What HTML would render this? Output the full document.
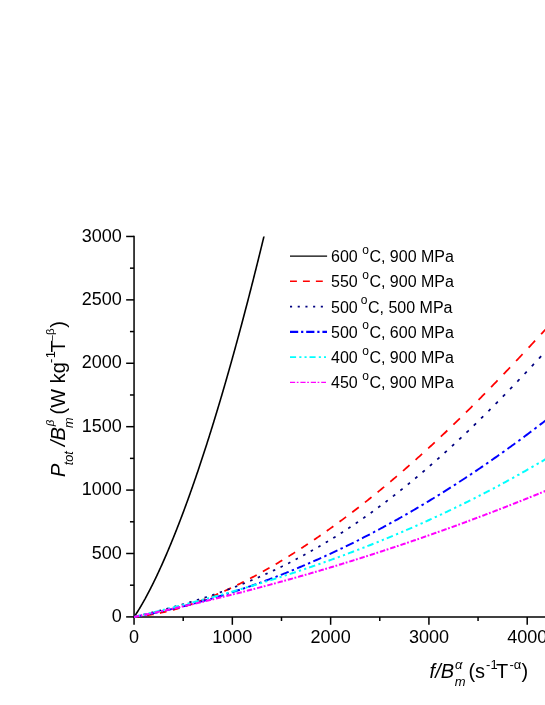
<!DOCTYPE html>
<html><head><meta charset="utf-8"><title>chart</title>
<style>
html,body{margin:0;padding:0;background:#fff;}
body{width:545px;height:705px;position:relative;overflow:hidden;font-family:"Liberation Sans",sans-serif;}
</style></head><body>
<svg width="545" height="705" viewBox="0 0 545 705" style="position:absolute;left:0;top:0;will-change:transform">
<g stroke="#000" stroke-width="1.5" fill="none">
<line x1="134.05" y1="617.65" x2="134.05" y2="235.71"/>
<line x1="133.3" y1="616.9" x2="545" y2="616.9"/>
<line x1="126.15" y1="616.90" x2="134.05" y2="616.90"/>
<line x1="129.95" y1="585.20" x2="134.05" y2="585.20"/>
<line x1="126.15" y1="553.49" x2="134.05" y2="553.49"/>
<line x1="129.95" y1="521.79" x2="134.05" y2="521.79"/>
<line x1="126.15" y1="490.09" x2="134.05" y2="490.09"/>
<line x1="129.95" y1="458.38" x2="134.05" y2="458.38"/>
<line x1="126.15" y1="426.68" x2="134.05" y2="426.68"/>
<line x1="129.95" y1="394.98" x2="134.05" y2="394.98"/>
<line x1="126.15" y1="363.27" x2="134.05" y2="363.27"/>
<line x1="129.95" y1="331.57" x2="134.05" y2="331.57"/>
<line x1="126.15" y1="299.87" x2="134.05" y2="299.87"/>
<line x1="129.95" y1="268.16" x2="134.05" y2="268.16"/>
<line x1="126.15" y1="236.46" x2="134.05" y2="236.46"/>
<line x1="134.05" y1="616.9" x2="134.05" y2="624.80"/>
<line x1="183.20" y1="616.9" x2="183.20" y2="621.00"/>
<line x1="232.34" y1="616.9" x2="232.34" y2="624.80"/>
<line x1="281.49" y1="616.9" x2="281.49" y2="621.00"/>
<line x1="330.63" y1="616.9" x2="330.63" y2="624.80"/>
<line x1="379.77" y1="616.9" x2="379.77" y2="621.00"/>
<line x1="428.92" y1="616.9" x2="428.92" y2="624.80"/>
<line x1="478.06" y1="616.9" x2="478.06" y2="621.00"/>
<line x1="527.21" y1="616.9" x2="527.21" y2="624.80"/>
</g>
<clipPath id="pc"><rect x="132.05" y="236.46" width="545" height="383.44"/></clipPath><g clip-path="url(#pc)">
<path d="M134.05,616.90 L134.38,616.44 L134.71,615.97 L135.04,615.50 L135.37,615.01 L135.70,614.52 L136.03,614.03 L136.35,613.53 L136.68,613.02 L137.01,612.51 L137.34,611.99 L137.67,611.47 L138.00,610.95 L138.33,610.42 L138.66,609.89 L138.99,609.36 L139.32,608.82 L139.65,608.27 L139.98,607.73 L140.31,607.17 L140.64,606.62 L140.96,606.06 L141.29,605.50 L141.62,604.94 L141.95,604.37 L142.28,603.80 L142.61,603.22 L142.94,602.65 L143.27,602.07 L143.60,601.48 L143.93,600.89 L144.26,600.30 L144.59,599.71 L144.92,599.11 L145.25,598.52 L145.57,597.91 L145.90,597.31 L146.23,596.70 L146.56,596.09 L146.89,595.47 L147.22,594.86 L147.55,594.24 L147.88,593.61 L148.21,592.99 L148.54,592.36 L148.87,591.73 L149.20,591.10 L149.53,590.46 L149.86,589.82 L150.18,589.18 L150.51,588.53 L150.84,587.89 L151.17,587.23 L151.50,586.58 L151.83,585.93 L152.16,585.27 L152.49,584.61 L152.82,583.94 L153.15,583.28 L153.48,582.61 L153.81,581.94 L154.14,581.26 L154.46,580.59 L154.79,579.91 L155.12,579.23 L155.45,578.54 L155.78,577.85 L156.11,577.17 L156.44,576.47 L156.77,575.78 L157.10,575.08 L157.43,574.38 L157.76,573.68 L158.09,572.98 L158.42,572.27 L158.75,571.56 L159.07,570.85 L159.40,570.13 L159.73,569.42 L160.06,568.70 L160.39,567.98 L160.72,567.25 L161.05,566.53 L161.38,565.80 L161.71,565.07 L162.04,564.33 L162.37,563.60 L162.70,562.86 L163.03,562.12 L163.36,561.37 L163.68,560.63 L164.01,559.88 L164.34,559.13 L164.67,558.38 L165.00,557.62 L165.33,556.87 L165.66,556.11 L165.99,555.34 L166.32,554.58 L166.65,553.81 L166.98,553.04 L167.31,552.27 L167.64,551.50 L167.96,550.72 L168.29,549.95 L168.62,549.16 L168.95,548.38 L169.28,547.60 L169.61,546.81 L169.94,546.02 L170.27,545.23 L170.60,544.43 L170.93,543.64 L171.26,542.84 L171.59,542.04 L171.92,541.23 L172.25,540.43 L172.57,539.62 L172.90,538.81 L173.23,538.00 L173.56,537.19 L173.89,536.37 L174.22,535.55 L174.55,534.73 L174.88,533.91 L175.21,533.08 L175.54,532.25 L175.87,531.42 L176.20,530.59 L176.53,529.76 L176.86,528.92 L177.18,528.08 L177.51,527.24 L177.84,526.40 L178.17,525.55 L178.50,524.70 L178.83,523.85 L179.16,523.00 L179.49,522.15 L179.82,521.29 L180.15,520.43 L180.48,519.57 L180.81,518.71 L181.14,517.84 L181.47,516.98 L181.79,516.11 L182.12,515.24 L182.45,514.36 L182.78,513.49 L183.11,512.61 L183.44,511.73 L183.77,510.85 L184.10,509.96 L184.43,509.08 L184.76,508.19 L185.09,507.30 L185.42,506.40 L185.75,505.51 L186.07,504.61 L186.40,503.71 L186.73,502.81 L187.06,501.91 L187.39,501.00 L187.72,500.10 L188.05,499.19 L188.38,498.27 L188.71,497.36 L189.04,496.44 L189.37,495.53 L189.70,494.61 L190.03,493.68 L190.36,492.76 L190.68,491.83 L191.01,490.90 L191.34,489.97 L191.67,489.04 L192.00,488.11 L192.33,487.17 L192.66,486.23 L192.99,485.29 L193.32,484.35 L193.65,483.40 L193.98,482.45 L194.31,481.50 L194.64,480.55 L194.97,479.60 L195.29,478.64 L195.62,477.68 L195.95,476.73 L196.28,475.76 L196.61,474.80 L196.94,473.83 L197.27,472.87 L197.60,471.90 L197.93,470.92 L198.26,469.95 L198.59,468.97 L198.92,468.00 L199.25,467.02 L199.58,466.03 L199.90,465.05 L200.23,464.06 L200.56,463.07 L200.89,462.08 L201.22,461.09 L201.55,460.10 L201.88,459.10 L202.21,458.10 L202.54,457.10 L202.87,456.10 L203.20,455.09 L203.53,454.09 L203.86,453.08 L204.18,452.07 L204.51,451.06 L204.84,450.04 L205.17,449.02 L205.50,448.01 L205.83,446.99 L206.16,445.96 L206.49,444.94 L206.82,443.91 L207.15,442.88 L207.48,441.85 L207.81,440.82 L208.14,439.78 L208.47,438.75 L208.79,437.71 L209.12,436.67 L209.45,435.63 L209.78,434.58 L210.11,433.53 L210.44,432.49 L210.77,431.43 L211.10,430.38 L211.43,429.33 L211.76,428.27 L212.09,427.21 L212.42,426.15 L212.75,425.09 L213.08,424.02 L213.40,422.96 L213.73,421.89 L214.06,420.82 L214.39,419.75 L214.72,418.67 L215.05,417.60 L215.38,416.52 L215.71,415.44 L216.04,414.35 L216.37,413.27 L216.70,412.18 L217.03,411.10 L217.36,410.01 L217.68,408.91 L218.01,407.82 L218.34,406.72 L218.67,405.63 L219.00,404.53 L219.33,403.42 L219.66,402.32 L219.99,401.21 L220.32,400.11 L220.65,399.00 L220.98,397.88 L221.31,396.77 L221.64,395.66 L221.97,394.54 L222.29,393.42 L222.62,392.30 L222.95,391.17 L223.28,390.05 L223.61,388.92 L223.94,387.79 L224.27,386.66 L224.60,385.53 L224.93,384.39 L225.26,383.26 L225.59,382.12 L225.92,380.98 L226.25,379.83 L226.58,378.69 L226.90,377.54 L227.23,376.39 L227.56,375.24 L227.89,374.09 L228.22,372.94 L228.55,371.78 L228.88,370.62 L229.21,369.46 L229.54,368.30 L229.87,367.14 L230.20,365.97 L230.53,364.80 L230.86,363.63 L231.19,362.46 L231.51,361.29 L231.84,360.11 L232.17,358.93 L232.50,357.75 L232.83,356.57 L233.16,355.39 L233.49,354.20 L233.82,353.02 L234.15,351.83 L234.48,350.64 L234.81,349.45 L235.14,348.25 L235.47,347.05 L235.79,345.86 L236.12,344.66 L236.45,343.45 L236.78,342.25 L237.11,341.04 L237.44,339.84 L237.77,338.63 L238.10,337.41 L238.43,336.20 L238.76,334.98 L239.09,333.77 L239.42,332.55 L239.75,331.33 L240.08,330.10 L240.40,328.88 L240.73,327.65 L241.06,326.42 L241.39,325.19 L241.72,323.96 L242.05,322.73 L242.38,321.49 L242.71,320.25 L243.04,319.01 L243.37,317.77 L243.70,316.52 L244.03,315.28 L244.36,314.03 L244.69,312.78 L245.01,311.53 L245.34,310.28 L245.67,309.02 L246.00,307.76 L246.33,306.51 L246.66,305.24 L246.99,303.98 L247.32,302.72 L247.65,301.45 L247.98,300.18 L248.31,298.91 L248.64,297.64 L248.97,296.37 L249.30,295.09 L249.62,293.81 L249.95,292.53 L250.28,291.25 L250.61,289.97 L250.94,288.68 L251.27,287.40 L251.60,286.11 L251.93,284.82 L252.26,283.52 L252.59,282.23 L252.92,280.93 L253.25,279.63 L253.58,278.33 L253.90,277.03 L254.23,275.73 L254.56,274.42 L254.89,273.11 L255.22,271.80 L255.55,270.49 L255.88,269.18 L256.21,267.87 L256.54,266.55 L256.87,265.23 L257.20,263.91 L257.53,262.59 L257.86,261.26 L258.19,259.94 L258.51,258.61 L258.84,257.28 L259.17,255.95 L259.50,254.61 L259.83,253.28 L260.16,251.94 L260.49,250.60 L260.82,249.26 L261.15,247.92 L261.48,246.57 L261.81,245.23 L262.14,243.88 L262.47,242.53 L262.80,241.18 L263.12,239.82 L263.45,238.47 L263.78,237.11 L264.11,235.75 L264.44,234.39 L264.77,233.02 L265.10,231.66 L265.43,230.29 L265.76,228.92" fill="none" stroke="#000" stroke-width="1.6"/>
<path d="M134.05,616.90 L135.39,616.78 L136.73,616.66 L138.07,616.52 L139.41,616.38 L140.75,616.22 M146.98,615.39 L148.32,615.18 L149.66,614.96 L151.00,614.74 L152.34,614.51 L153.68,614.27 M159.91,613.03 L161.25,612.75 L162.59,612.45 L163.92,612.15 L165.26,611.83 L166.60,611.51 M172.83,609.92 L174.16,609.56 L175.50,609.19 L176.84,608.81 L178.17,608.43 L179.51,608.04 M185.73,606.12 L187.07,605.69 L188.40,605.25 L189.74,604.80 L191.07,604.35 L192.41,603.89 M198.62,601.68 L199.96,601.18 L201.29,600.68 L202.63,600.18 L203.96,599.67 L205.29,599.15 M211.50,596.66 L212.84,596.11 L214.17,595.55 L215.50,594.99 L216.83,594.42 L218.17,593.84 M224.37,591.10 L225.70,590.49 L227.03,589.88 L228.36,589.27 L229.69,588.65 L231.02,588.02 M237.22,585.04 L238.55,584.39 L239.88,583.73 L241.21,583.07 L242.54,582.40 L243.87,581.72 M250.06,578.52 L251.39,577.82 L252.71,577.12 L254.04,576.41 L255.37,575.70 L256.70,574.98 M262.88,571.57 L264.21,570.83 L265.53,570.08 L266.86,569.33 L268.19,568.57 L269.51,567.81 M275.69,564.21 L277.01,563.42 L278.34,562.63 L279.66,561.84 L280.99,561.04 L282.31,560.24 M288.48,556.45 L289.81,555.62 L291.13,554.80 L292.45,553.96 L293.78,553.13 L295.10,552.28 M301.26,548.32 L302.58,547.45 L303.91,546.59 L305.23,545.72 L306.55,544.84 L307.87,543.96 M314.03,539.82 L315.35,538.92 L316.67,538.02 L317.99,537.11 L319.31,536.20 L320.63,535.29 M326.77,530.98 L328.09,530.04 L329.41,529.10 L330.73,528.16 L332.05,527.21 L333.37,526.26 M339.51,521.79 L340.83,520.82 L342.14,519.85 L343.46,518.87 L344.78,517.89 L346.10,516.90 M352.23,512.27 L353.54,511.26 L354.86,510.26 L356.18,509.24 L357.49,508.23 L358.81,507.21 M364.93,502.42 L366.25,501.38 L367.56,500.33 L368.88,499.29 L370.19,498.24 L371.50,497.19 M377.62,492.24 L378.93,491.17 L380.24,490.09 L381.56,489.01 L382.87,487.93 L384.18,486.84 M390.29,481.74 L391.60,480.64 L392.91,479.53 L394.22,478.42 L395.53,477.30 L396.84,476.18 M402.94,470.93 L404.25,469.80 L405.56,468.66 L406.87,467.51 L408.18,466.36 L409.49,465.21 M415.58,459.81 L416.89,458.65 L418.20,457.47 L419.51,456.30 L420.81,455.12 L422.12,453.94 M428.20,448.40 L429.51,447.20 L430.82,445.99 L432.12,444.79 L433.43,443.58 L434.73,442.37 M440.81,436.68 L442.11,435.46 L443.42,434.22 L444.72,432.99 L446.02,431.75 L447.33,430.51 M453.40,424.69 L454.70,423.43 L456.00,422.17 L457.30,420.91 L458.61,419.64 L459.91,418.37 M465.97,412.43 L467.27,411.14 L468.57,409.85 L469.87,408.56 L471.17,407.27 L472.47,405.97 M478.52,399.91 L479.82,398.60 L481.12,397.28 L482.42,395.97 L483.72,394.65 L485.02,393.33 M491.06,387.15 L492.36,385.81 L493.66,384.48 L494.96,383.14 L496.25,381.80 L497.55,380.46 M503.59,374.17 L504.89,372.82 L506.18,371.46 L507.48,370.10 L508.78,368.74 L510.07,367.38 M516.11,361.01 L517.40,359.63 L518.70,358.26 L519.99,356.88 L521.29,355.50 L522.58,354.12 M528.61,347.67 L529.90,346.29 L531.20,344.90 L532.49,343.50 L533.79,342.11 L535.08,340.72 M541.10,334.21 L542.40,332.81 L543.69,331.41 L544.98,330.00 L546.28,328.60 L547.57,327.20" fill="none" stroke="#ff0000" stroke-width="1.75"/>
<path d="M135.79,616.49 L136.25,616.38 L136.71,616.28 L137.17,616.17 L137.63,616.06 L138.09,615.95 M143.44,614.68 L143.90,614.57 L144.36,614.45 L144.81,614.34 L145.27,614.23 L145.73,614.12 M151.08,612.81 L151.54,612.69 L152.00,612.58 L152.46,612.46 L152.92,612.35 L153.37,612.23 M158.73,610.88 L159.18,610.76 L159.64,610.64 L160.10,610.52 L160.56,610.40 L161.02,610.29 M166.36,608.88 L166.82,608.76 L167.28,608.64 L167.74,608.51 L168.20,608.39 L168.66,608.27 M174.00,606.81 L174.46,606.68 L174.92,606.56 L175.38,606.43 L175.83,606.30 L176.29,606.17 M181.64,604.66 L182.10,604.53 L182.55,604.40 L183.01,604.26 L183.47,604.13 L183.93,604.00 M189.27,602.42 L189.73,602.29 L190.19,602.15 L190.64,602.01 L191.10,601.88 L191.56,601.74 M196.90,600.10 L197.36,599.96 L197.81,599.81 L198.27,599.67 L198.73,599.53 L199.19,599.38 M204.52,597.68 L204.98,597.53 L205.44,597.38 L205.90,597.23 L206.35,597.08 L206.81,596.93 M212.15,595.15 L212.60,595.00 L213.06,594.84 L213.52,594.69 L213.97,594.53 L214.43,594.37 M219.76,592.52 L220.22,592.36 L220.68,592.20 L221.13,592.03 L221.59,591.87 L222.05,591.71 M227.38,589.78 L227.83,589.61 L228.29,589.44 L228.75,589.27 L229.20,589.10 L229.66,588.93 M234.99,586.92 L235.44,586.75 L235.90,586.57 L236.35,586.40 L236.81,586.22 L237.27,586.04 M242.59,583.95 L243.04,583.77 L243.50,583.58 L243.96,583.40 L244.41,583.22 L244.87,583.03 M250.19,580.85 L250.64,580.66 L251.10,580.47 L251.55,580.28 L252.01,580.09 L252.46,579.90 M257.78,577.63 L258.23,577.43 L258.69,577.23 L259.14,577.04 L259.60,576.84 L260.05,576.64 M265.36,574.28 L265.82,574.07 L266.27,573.87 L266.73,573.66 L267.18,573.46 L267.64,573.25 M272.94,570.80 L273.39,570.58 L273.85,570.37 L274.30,570.16 L274.76,569.94 L275.21,569.73 M280.51,567.18 L280.97,566.96 L281.42,566.74 L281.87,566.52 L282.33,566.30 L282.78,566.07 M288.07,563.43 L288.53,563.21 L288.98,562.98 L289.43,562.75 L289.89,562.52 L290.34,562.28 M295.63,559.55 L296.08,559.31 L296.54,559.07 L296.99,558.84 L297.44,558.60 L297.89,558.36 M303.18,555.53 L303.63,555.28 L304.08,555.03 L304.53,554.79 L304.99,554.54 L305.44,554.29 M310.72,551.36 L311.17,551.11 L311.62,550.85 L312.07,550.60 L312.52,550.34 L312.97,550.09 M318.24,547.06 L318.70,546.80 L319.15,546.53 L319.60,546.27 L320.05,546.00 L320.50,545.74 M325.76,542.61 L326.21,542.34 L326.67,542.07 L327.12,541.80 L327.57,541.53 L328.02,541.25 M333.27,538.03 L333.72,537.75 L334.17,537.47 L334.62,537.19 L335.07,536.91 L335.52,536.63 M340.77,533.30 L341.22,533.01 L341.67,532.73 L342.12,532.44 L342.57,532.15 L343.02,531.86 M348.26,528.44 L348.71,528.14 L349.16,527.84 L349.61,527.54 L350.06,527.25 L350.51,526.95 M355.74,523.43 L356.19,523.12 L356.64,522.82 L357.09,522.51 L357.53,522.21 L357.98,521.90 M363.21,518.28 L363.66,517.97 L364.10,517.65 L364.55,517.34 L365.00,517.03 L365.45,516.71 M370.67,512.99 L371.11,512.67 L371.56,512.35 L372.01,512.03 L372.45,511.71 L372.90,511.38 M378.11,507.57 L378.56,507.24 L379.00,506.91 L379.45,506.58 L379.90,506.25 L380.34,505.92 M385.54,502.01 L385.99,501.68 L386.44,501.34 L386.88,501.00 L387.33,500.66 L387.77,500.32 M392.97,496.32 L393.41,495.97 L393.86,495.63 L394.30,495.28 L394.74,494.93 L395.19,494.59 M400.38,490.49 L400.82,490.14 L401.26,489.79 L401.71,489.43 L402.15,489.08 L402.60,488.72 M407.77,484.54 L408.22,484.18 L408.66,483.82 L409.10,483.45 L409.55,483.09 L409.99,482.73 M415.16,478.46 L415.60,478.09 L416.04,477.72 L416.49,477.35 L416.93,476.98 L417.37,476.61 M422.53,472.25 L422.98,471.87 L423.42,471.49 L423.86,471.12 L424.30,470.74 L424.74,470.36 M429.89,465.91 L430.34,465.53 L430.78,465.15 L431.22,464.76 L431.66,464.38 L432.10,463.99 M437.24,459.46 L437.68,459.07 L438.13,458.68 L438.57,458.29 L439.01,457.90 L439.45,457.50 M444.58,452.89 L445.02,452.50 L445.46,452.10 L445.90,451.70 L446.34,451.30 L446.78,450.90 M451.91,446.21 L452.35,445.81 L452.79,445.40 L453.22,445.00 L453.66,444.59 L454.10,444.19 M459.22,439.42 L459.66,439.01 L460.10,438.60 L460.54,438.18 L460.97,437.77 L461.41,437.36 M466.52,432.52 L466.96,432.10 L467.40,431.68 L467.84,431.27 L468.27,430.85 L468.71,430.43 M473.82,425.52 L474.25,425.09 L474.69,424.67 L475.13,424.25 L475.56,423.82 L476.00,423.40 M481.10,418.41 L481.53,417.98 L481.97,417.55 L482.40,417.13 L482.84,416.69 L483.28,416.26 M488.36,411.22 L488.80,410.78 L489.24,410.35 L489.67,409.91 L490.11,409.47 L490.54,409.04 M495.62,403.93 L496.06,403.49 L496.49,403.05 L496.93,402.60 L497.36,402.16 L497.80,401.72 M502.87,396.55 L503.31,396.10 L503.74,395.66 L504.17,395.21 L504.61,394.77 L505.04,394.32 M510.11,389.09 L510.54,388.64 L510.98,388.19 L511.41,387.74 L511.84,387.29 L512.28,386.84 M517.34,381.55 L517.77,381.09 L518.21,380.64 L518.64,380.18 L519.07,379.73 L519.50,379.27 M524.56,373.94 L524.99,373.48 L525.42,373.02 L525.86,372.56 L526.29,372.10 L526.72,371.64 M531.77,366.25 L532.20,365.79 L532.63,365.33 L533.07,364.86 L533.50,364.40 L533.93,363.94 M538.97,358.51 L539.41,358.04 L539.84,357.57 L540.27,357.11 L540.70,356.64 L541.13,356.17 M546.17,350.70 L546.60,350.23 L547.03,349.76 L547.46,349.29 L547.90,348.82 L548.33,348.35" fill="none" stroke="#000080" stroke-width="1.75"/>
<path d="M134.05,616.90 L135.63,616.61 L137.21,616.32 L138.79,616.03 L140.36,615.73 L141.94,615.43 M145.04,614.83 L145.49,614.74 L145.94,614.66 L146.39,614.57 L146.84,614.48 L147.29,614.39 M150.38,613.76 L151.96,613.44 L153.54,613.11 L155.11,612.78 L156.69,612.45 L158.27,612.11 M161.37,611.44 L161.82,611.34 L162.26,611.24 L162.71,611.14 L163.16,611.04 L163.61,610.94 M166.71,610.24 L168.28,609.88 L169.86,609.52 L171.44,609.15 L173.02,608.78 L174.59,608.41 M177.69,607.66 L178.14,607.55 L178.59,607.44 L179.04,607.33 L179.49,607.22 L179.93,607.11 M183.03,606.34 L184.61,605.94 L186.18,605.54 L187.76,605.14 L189.34,604.73 L190.91,604.32 M194.01,603.50 L194.45,603.38 L194.90,603.26 L195.35,603.14 L195.80,603.02 L196.25,602.90 M199.34,602.06 L200.92,601.62 L202.50,601.18 L204.07,600.74 L205.65,600.30 L207.22,599.85 M210.32,598.96 L210.76,598.83 L211.21,598.70 L211.66,598.56 L212.11,598.43 L212.56,598.30 M215.65,597.39 L217.23,596.92 L218.80,596.44 L220.38,595.96 L221.95,595.48 L223.53,594.99 M226.62,594.03 L227.07,593.89 L227.52,593.75 L227.97,593.61 L228.41,593.47 L228.86,593.32 M231.95,592.34 L233.53,591.83 L235.10,591.32 L236.68,590.80 L238.25,590.28 L239.83,589.76 M242.92,588.73 L243.36,588.57 L243.81,588.42 L244.26,588.27 L244.71,588.12 L245.16,587.97 M248.25,586.91 L249.82,586.36 L251.39,585.81 L252.97,585.26 L254.54,584.71 L256.12,584.15 M259.20,583.04 L259.65,582.88 L260.10,582.71 L260.55,582.55 L261.00,582.39 L261.44,582.23 M264.53,581.10 L266.10,580.51 L267.68,579.93 L269.25,579.34 L270.82,578.75 L272.40,578.15 M275.48,576.97 L275.93,576.80 L276.38,576.63 L276.83,576.45 L277.27,576.28 L277.72,576.11 M280.81,574.90 L282.38,574.29 L283.95,573.66 L285.52,573.04 L287.10,572.41 L288.67,571.78 M291.75,570.53 L292.20,570.34 L292.65,570.16 L293.10,569.98 L293.54,569.79 L293.99,569.61 M297.08,568.34 L298.65,567.68 L300.22,567.02 L301.79,566.36 L303.36,565.70 L304.93,565.03 M308.01,563.70 L308.46,563.51 L308.91,563.32 L309.36,563.12 L309.80,562.93 L310.25,562.74 M313.33,561.39 L314.90,560.70 L316.47,560.00 L318.04,559.30 L319.61,558.60 L321.18,557.90 M324.26,556.50 L324.71,556.30 L325.16,556.10 L325.61,555.89 L326.05,555.69 L326.50,555.48 M329.58,554.07 L331.15,553.34 L332.72,552.61 L334.29,551.87 L335.86,551.13 L337.43,550.39 M340.50,548.93 L340.95,548.71 L341.40,548.50 L341.84,548.28 L342.29,548.07 L342.74,547.85 M345.82,546.37 L347.38,545.60 L348.95,544.83 L350.52,544.06 L352.09,543.29 L353.66,542.51 M356.73,540.98 L357.18,540.75 L357.63,540.53 L358.07,540.30 L358.52,540.08 L358.97,539.85 M362.04,538.29 L363.61,537.49 L365.18,536.69 L366.74,535.88 L368.31,535.07 L369.88,534.26 M372.95,532.65 L373.40,532.42 L373.84,532.18 L374.29,531.95 L374.73,531.71 L375.18,531.47 M378.25,529.84 L379.82,529.01 L381.39,528.17 L382.95,527.33 L384.52,526.48 L386.08,525.63 M389.15,523.95 L389.60,523.71 L390.05,523.46 L390.49,523.22 L390.94,522.97 L391.38,522.73 M394.45,521.02 L396.02,520.15 L397.58,519.28 L399.15,518.40 L400.71,517.52 L402.28,516.63 M405.35,514.88 L405.79,514.63 L406.24,514.37 L406.68,514.12 L407.13,513.86 L407.57,513.60 M410.64,511.83 L412.21,510.92 L413.77,510.01 L415.33,509.10 L416.90,508.18 L418.46,507.26 M421.53,505.44 L421.97,505.18 L422.42,504.91 L422.86,504.64 L423.31,504.38 L423.75,504.11 M426.82,502.27 L428.38,501.33 L429.94,500.38 L431.50,499.43 L433.06,498.48 L434.63,497.52 M437.69,495.63 L438.14,495.35 L438.58,495.08 L439.02,494.80 L439.47,494.53 L439.91,494.25 M442.98,492.34 L444.54,491.36 L446.10,490.38 L447.66,489.39 L449.22,488.40 L450.78,487.41 M453.84,485.45 L454.29,485.17 L454.73,484.88 L455.17,484.59 L455.62,484.31 L456.06,484.02 M459.12,482.04 L460.68,481.03 L462.24,480.01 L463.80,478.99 L465.36,477.96 L466.92,476.93 M469.98,474.91 L470.42,474.61 L470.87,474.32 L471.31,474.02 L471.75,473.72 L472.20,473.43 M475.25,471.38 L476.81,470.33 L478.37,469.27 L479.93,468.22 L481.49,467.16 L483.04,466.09 M486.10,464.00 L486.54,463.69 L486.99,463.39 L487.43,463.08 L487.87,462.77 L488.32,462.47 M491.37,460.35 L492.93,459.26 L494.48,458.17 L496.04,457.08 L497.60,455.99 L499.15,454.89 M502.20,452.72 L502.65,452.41 L503.09,452.09 L503.53,451.77 L503.98,451.46 L504.42,451.14 M507.47,448.95 L509.02,447.83 L510.58,446.71 L512.13,445.58 L513.69,444.45 L515.24,443.32 M518.29,441.08 L518.74,440.76 L519.18,440.43 L519.62,440.11 L520.06,439.78 L520.51,439.46 M523.55,437.20 L525.11,436.04 L526.66,434.89 L528.21,433.72 L529.77,432.56 L531.32,431.39 M534.36,429.09 L534.81,428.75 L535.25,428.42 L535.69,428.08 L536.13,427.74 L536.58,427.41 M539.62,425.08 L541.17,423.89 L542.72,422.70 L544.28,421.50 L545.83,420.30 L547.38,419.10" fill="none" stroke="#0000ff" stroke-width="1.95"/>
<path d="M134.05,616.90 L135.27,616.62 L136.49,616.33 L137.70,616.05 L138.92,615.76 L140.14,615.47 M143.33,614.72 L143.75,614.62 L144.17,614.52 L144.59,614.42 L145.01,614.32 L145.43,614.22 M148.52,613.48 L148.94,613.38 L149.36,613.28 L149.78,613.18 L150.20,613.08 L150.62,612.98 M153.52,612.28 L154.73,611.98 L155.95,611.69 L157.17,611.39 L158.39,611.09 L159.60,610.80 M162.80,610.01 L163.22,609.91 L163.64,609.80 L164.06,609.70 L164.48,609.60 L164.89,609.49 M167.99,608.72 L168.41,608.62 L168.83,608.52 L169.25,608.41 L169.67,608.31 L170.08,608.20 M172.98,607.48 L174.20,607.17 L175.41,606.86 L176.63,606.55 L177.85,606.24 L179.07,605.93 M182.26,605.12 L182.68,605.01 L183.10,604.90 L183.52,604.80 L183.94,604.69 L184.36,604.58 M187.45,603.78 L187.87,603.67 L188.29,603.56 L188.71,603.45 L189.13,603.34 L189.54,603.24 M192.44,602.48 L193.66,602.16 L194.87,601.84 L196.09,601.52 L197.31,601.20 L198.53,600.87 M201.72,600.02 L202.14,599.91 L202.56,599.80 L202.98,599.69 L203.39,599.57 L203.81,599.46 M206.91,598.63 L207.33,598.51 L207.74,598.40 L208.16,598.29 L208.58,598.17 L209.00,598.06 M211.90,597.27 L213.11,596.94 L214.33,596.61 L215.55,596.27 L216.76,595.93 L217.98,595.60 M221.17,594.71 L221.59,594.59 L222.01,594.48 L222.43,594.36 L222.85,594.24 L223.27,594.12 M226.36,593.25 L226.78,593.14 L227.20,593.02 L227.62,592.90 L228.04,592.78 L228.46,592.66 M231.35,591.84 L232.56,591.49 L233.78,591.14 L235.00,590.79 L236.22,590.44 L237.43,590.09 M240.62,589.16 L241.04,589.04 L241.46,588.92 L241.88,588.80 L242.30,588.67 L242.72,588.55 M245.81,587.64 L246.23,587.52 L246.65,587.39 L247.07,587.27 L247.49,587.15 L247.90,587.02 M250.80,586.16 L252.01,585.80 L253.23,585.44 L254.45,585.07 L255.66,584.70 L256.88,584.34 M260.07,583.37 L260.49,583.24 L260.91,583.11 L261.33,582.98 L261.74,582.85 L262.16,582.73 M265.25,581.78 L265.67,581.65 L266.09,581.52 L266.51,581.39 L266.93,581.26 L267.35,581.13 M270.24,580.23 L271.46,579.85 L272.67,579.47 L273.89,579.09 L275.10,578.70 L276.32,578.32 M279.51,577.30 L279.93,577.17 L280.35,577.04 L280.77,576.90 L281.19,576.77 L281.60,576.64 M284.69,575.64 L285.11,575.51 L285.53,575.37 L285.95,575.24 L286.37,575.10 L286.79,574.96 M289.68,574.02 L290.89,573.63 L292.11,573.23 L293.33,572.83 L294.54,572.43 L295.76,572.02 M298.95,570.96 L299.36,570.82 L299.78,570.68 L300.20,570.54 L300.62,570.40 L301.04,570.26 M304.13,569.22 L304.55,569.08 L304.96,568.94 L305.38,568.80 L305.80,568.65 L306.22,568.51 M309.11,567.53 L310.33,567.11 L311.54,566.69 L312.76,566.27 L313.97,565.85 L315.19,565.43 M318.38,564.32 L318.79,564.18 L319.21,564.03 L319.63,563.88 L320.05,563.74 L320.47,563.59 M323.56,562.50 L323.97,562.35 L324.39,562.20 L324.81,562.06 L325.23,561.91 L325.65,561.76 M328.54,560.73 L329.75,560.29 L330.97,559.85 L332.18,559.42 L333.40,558.98 L334.61,558.54 M337.80,557.37 L338.22,557.22 L338.63,557.07 L339.05,556.91 L339.47,556.76 L339.89,556.61 M342.98,555.47 L343.39,555.31 L343.81,555.15 L344.23,555.00 L344.65,554.84 L345.07,554.69 M347.95,553.61 L349.17,553.15 L350.38,552.69 L351.60,552.24 L352.81,551.77 L354.03,551.31 M357.21,550.10 L357.63,549.94 L358.05,549.77 L358.47,549.61 L358.89,549.45 L359.30,549.29 M362.39,548.10 L362.81,547.94 L363.22,547.77 L363.64,547.61 L364.06,547.45 L364.48,547.28 M367.37,546.15 L368.58,545.68 L369.79,545.20 L371.01,544.72 L372.22,544.23 L373.44,543.75 M376.62,542.48 L377.04,542.31 L377.46,542.14 L377.87,541.97 L378.29,541.80 L378.71,541.64 M381.79,540.39 L382.21,540.22 L382.63,540.05 L383.05,539.87 L383.46,539.70 L383.88,539.53 M386.77,538.35 L387.98,537.85 L389.19,537.35 L390.41,536.84 L391.62,536.34 L392.83,535.83 M396.02,534.50 L396.43,534.32 L396.85,534.15 L397.27,533.97 L397.69,533.80 L398.11,533.62 M401.19,532.31 L401.61,532.13 L402.02,531.95 L402.44,531.78 L402.86,531.60 L403.28,531.42 M406.16,530.18 L407.37,529.66 L408.59,529.13 L409.80,528.61 L411.01,528.08 L412.22,527.55 M415.41,526.15 L415.82,525.97 L416.24,525.78 L416.66,525.60 L417.08,525.41 L417.49,525.23 M420.57,523.86 L420.99,523.67 L421.41,523.49 L421.83,523.30 L422.24,523.11 L422.66,522.93 M425.54,521.63 L426.75,521.08 L427.97,520.53 L429.18,519.98 L430.39,519.43 L431.60,518.88 M434.78,517.42 L435.20,517.22 L435.62,517.03 L436.03,516.84 L436.45,516.65 L436.87,516.45 M439.95,515.02 L440.37,514.82 L440.78,514.63 L441.20,514.43 L441.62,514.24 L442.03,514.04 M444.91,512.69 L446.13,512.11 L447.34,511.54 L448.55,510.96 L449.76,510.39 L450.97,509.81 M454.15,508.28 L454.57,508.08 L454.98,507.88 L455.40,507.67 L455.82,507.47 L456.23,507.27 M459.31,505.77 L459.73,505.57 L460.14,505.37 L460.56,505.16 L460.98,504.96 L461.39,504.75 M464.27,503.33 L465.48,502.74 L466.69,502.13 L467.91,501.53 L469.12,500.93 L470.33,500.32 M473.50,498.73 L473.92,498.52 L474.33,498.30 L474.75,498.09 L475.17,497.88 L475.58,497.67 M478.66,496.11 L479.08,495.89 L479.49,495.68 L479.91,495.47 L480.33,495.25 L480.74,495.04 M483.62,493.56 L484.83,492.93 L486.04,492.30 L487.25,491.67 L488.46,491.04 L489.67,490.41 M492.84,488.74 L493.26,488.52 L493.67,488.30 L494.09,488.08 L494.51,487.86 L494.92,487.64 M498.00,486.00 L498.41,485.78 L498.83,485.56 L499.24,485.34 L499.66,485.11 L500.08,484.89 M502.95,483.34 L504.16,482.69 L505.37,482.03 L506.58,481.38 L507.79,480.72 L509.00,480.06 M512.17,478.31 L512.58,478.08 L513.00,477.85 L513.41,477.62 L513.83,477.39 L514.25,477.16 M517.32,475.46 L517.73,475.22 L518.15,474.99 L518.56,474.76 L518.98,474.52 L519.40,474.29 M522.27,472.68 L523.48,471.99 L524.68,471.31 L525.89,470.62 L527.10,469.93 L528.31,469.24 M531.47,467.43 L531.89,467.19 L532.31,466.95 L532.72,466.71 L533.14,466.47 L533.55,466.23 M536.62,464.44 L537.04,464.20 L537.45,463.96 L537.87,463.72 L538.28,463.47 L538.70,463.23 M541.57,461.54 L542.78,460.83 L543.98,460.12 L545.19,459.40 L546.40,458.68 L547.60,457.96" fill="none" stroke="#00ffff" stroke-width="2.0"/>
<path d="M134.05,616.90 L135.09,616.69 L136.13,616.48 L137.17,616.27 L138.20,616.05 L139.24,615.84 M140.74,615.53 L141.08,615.46 L141.42,615.39 L141.76,615.32 L142.10,615.25 L142.44,615.18 M144.31,614.80 L145.35,614.58 L146.38,614.36 L147.42,614.15 L148.46,613.93 L149.50,613.71 M151.00,613.40 L151.34,613.32 L151.68,613.25 L152.02,613.18 L152.36,613.11 L152.70,613.04 M154.56,612.64 L155.60,612.42 L156.64,612.20 L157.68,611.98 L158.72,611.75 L159.75,611.53 M161.25,611.21 L161.59,611.13 L161.93,611.06 L162.27,610.99 L162.61,610.91 L162.95,610.84 M164.82,610.43 L165.86,610.21 L166.89,609.98 L167.93,609.75 L168.97,609.52 L170.01,609.29 M171.51,608.96 L171.85,608.89 L172.19,608.81 L172.53,608.74 L172.87,608.66 L173.20,608.59 M175.07,608.17 L176.11,607.94 L177.15,607.71 L178.19,607.47 L179.23,607.24 L180.26,607.01 M181.76,606.67 L182.10,606.59 L182.44,606.51 L182.78,606.44 L183.12,606.36 L183.46,606.28 M185.33,605.86 L186.36,605.62 L187.40,605.38 L188.44,605.14 L189.48,604.90 L190.52,604.66 M192.01,604.32 L192.35,604.24 L192.69,604.16 L193.03,604.08 L193.37,604.00 L193.71,603.92 M195.58,603.49 L196.62,603.25 L197.66,603.00 L198.69,602.76 L199.73,602.52 L200.77,602.27 M202.27,601.92 L202.61,601.84 L202.95,601.76 L203.29,601.68 L203.62,601.59 L203.96,601.51 M205.83,601.07 L206.87,600.82 L207.91,600.57 L208.95,600.32 L209.98,600.07 L211.02,599.82 M212.52,599.46 L212.86,599.38 L213.20,599.30 L213.54,599.22 L213.88,599.13 L214.22,599.05 M216.08,598.60 L217.12,598.34 L218.16,598.09 L219.20,597.84 L220.23,597.58 L221.27,597.32 M222.77,596.96 L223.11,596.87 L223.45,596.79 L223.79,596.70 L224.13,596.62 L224.47,596.54 M226.33,596.07 L227.37,595.81 L228.41,595.55 L229.45,595.29 L230.48,595.03 L231.52,594.77 M233.02,594.40 L233.36,594.31 L233.70,594.22 L234.04,594.14 L234.38,594.05 L234.72,593.97 M236.58,593.49 L237.62,593.23 L238.66,592.96 L239.70,592.70 L240.73,592.43 L241.77,592.17 M243.27,591.78 L243.61,591.70 L243.95,591.61 L244.29,591.52 L244.63,591.43 L244.97,591.35 M246.83,590.86 L247.87,590.59 L248.91,590.32 L249.94,590.05 L250.98,589.78 L252.02,589.51 M253.52,589.12 L253.86,589.03 L254.20,588.94 L254.53,588.85 L254.87,588.76 L255.21,588.67 M257.08,588.18 L258.12,587.90 L259.15,587.63 L260.19,587.35 L261.23,587.08 L262.27,586.80 M263.76,586.40 L264.10,586.31 L264.44,586.22 L264.78,586.13 L265.12,586.04 L265.46,585.94 M267.33,585.44 L268.36,585.16 L269.40,584.88 L270.44,584.60 L271.48,584.32 L272.51,584.04 M274.01,583.63 L274.35,583.54 L274.69,583.44 L275.03,583.35 L275.37,583.26 L275.71,583.17 M277.57,582.65 L278.61,582.37 L279.65,582.08 L280.69,581.80 L281.72,581.51 L282.76,581.22 M284.26,580.81 L284.60,580.71 L284.94,580.62 L285.27,580.52 L285.61,580.43 L285.95,580.33 M287.82,579.81 L288.86,579.52 L289.89,579.23 L290.93,578.94 L291.97,578.65 L293.01,578.35 M294.50,577.93 L294.84,577.83 L295.18,577.74 L295.52,577.64 L295.86,577.55 L296.20,577.45 M298.06,576.92 L299.10,576.62 L300.14,576.33 L301.17,576.03 L302.21,575.73 L303.25,575.43 M304.75,575.00 L305.08,574.90 L305.42,574.81 L305.76,574.71 L306.10,574.61 L306.44,574.51 M308.31,573.97 L309.34,573.67 L310.38,573.37 L311.42,573.07 L312.46,572.76 L313.49,572.46 M314.99,572.02 L315.33,571.92 L315.67,571.82 L316.01,571.72 L316.34,571.62 L316.68,571.52 M318.55,570.97 L319.59,570.67 L320.62,570.36 L321.66,570.05 L322.70,569.74 L323.73,569.43 M325.23,568.99 L325.57,568.89 L325.91,568.78 L326.25,568.68 L326.59,568.58 L326.93,568.48 M328.79,567.92 L329.83,567.61 L330.86,567.30 L331.90,566.98 L332.94,566.67 L333.98,566.35 M335.47,565.90 L335.81,565.80 L336.15,565.69 L336.49,565.59 L336.83,565.49 L337.17,565.38 M339.03,564.82 L340.07,564.50 L341.11,564.18 L342.14,563.86 L343.18,563.54 L344.22,563.22 M345.71,562.76 L346.05,562.66 L346.39,562.55 L346.73,562.45 L347.07,562.34 L347.41,562.24 M349.27,561.66 L350.31,561.34 L351.34,561.01 L352.38,560.69 L353.42,560.36 L354.46,560.04 M355.95,559.57 L356.29,559.46 L356.63,559.36 L356.97,559.25 L357.31,559.14 L357.65,559.04 M359.51,558.45 L360.55,558.12 L361.58,557.79 L362.62,557.46 L363.66,557.13 L364.69,556.80 M366.19,556.33 L366.53,556.22 L366.87,556.11 L367.21,556.00 L367.54,555.89 L367.88,555.78 M369.75,555.19 L370.78,554.85 L371.82,554.52 L372.86,554.19 L373.89,553.85 L374.93,553.51 M376.43,553.03 L376.76,552.92 L377.10,552.81 L377.44,552.70 L377.78,552.59 L378.12,552.48 M379.98,551.87 L381.02,551.53 L382.06,551.19 L383.09,550.85 L384.13,550.51 L385.17,550.17 M386.66,549.68 L387.00,549.57 L387.34,549.46 L387.68,549.35 L388.02,549.23 L388.36,549.12 M390.22,548.51 L391.26,548.16 L392.29,547.82 L393.33,547.47 L394.36,547.13 L395.40,546.78 M396.90,546.28 L397.23,546.17 L397.57,546.05 L397.91,545.94 L398.25,545.83 L398.59,545.71 M400.45,545.09 L401.49,544.74 L402.53,544.39 L403.56,544.04 L404.60,543.69 L405.63,543.33 M407.13,542.83 L407.47,542.71 L407.81,542.60 L408.15,542.48 L408.48,542.37 L408.82,542.25 M410.69,541.61 L411.72,541.26 L412.76,540.90 L413.80,540.55 L414.83,540.19 L415.87,539.84 M417.36,539.32 L417.70,539.20 L418.04,539.09 L418.38,538.97 L418.72,538.85 L419.06,538.74 M420.92,538.09 L421.95,537.73 L422.99,537.37 L424.03,537.01 L425.06,536.65 L426.10,536.29 M427.59,535.76 L427.93,535.64 L428.27,535.53 L428.61,535.41 L428.95,535.29 L429.29,535.17 M431.15,534.51 L432.19,534.15 L433.22,533.78 L434.26,533.42 L435.29,533.05 L436.33,532.68 M437.82,532.15 L438.16,532.03 L438.50,531.91 L438.84,531.79 L439.18,531.67 L439.52,531.55 M441.38,530.88 L442.42,530.51 L443.45,530.14 L444.49,529.77 L445.52,529.40 L446.56,529.03 M448.05,528.49 L448.39,528.37 L448.73,528.24 L449.07,528.12 L449.41,528.00 L449.75,527.88 M451.61,527.20 L452.64,526.83 L453.68,526.45 L454.72,526.08 L455.75,525.70 L456.79,525.32 M458.28,524.77 L458.62,524.65 L458.96,524.53 L459.30,524.40 L459.63,524.28 L459.97,524.15 M461.84,523.47 L462.87,523.09 L463.91,522.71 L464.94,522.33 L465.98,521.94 L467.01,521.56 M468.51,521.01 L468.85,520.88 L469.18,520.76 L469.52,520.63 L469.86,520.50 L470.20,520.38 M472.06,519.68 L473.10,519.30 L474.13,518.91 L475.17,518.52 L476.20,518.14 L477.24,517.75 M478.73,517.19 L479.07,517.06 L479.41,516.93 L479.75,516.80 L480.09,516.68 L480.43,516.55 M482.29,515.85 L483.32,515.46 L484.36,515.06 L485.39,514.67 L486.43,514.28 L487.46,513.88 M488.96,513.31 L489.30,513.19 L489.63,513.06 L489.97,512.93 L490.31,512.80 L490.65,512.67 M492.51,511.96 L493.55,511.56 L494.58,511.16 L495.62,510.76 L496.65,510.37 L497.69,509.97 M499.18,509.39 L499.52,509.26 L499.86,509.13 L500.20,509.00 L500.53,508.87 L500.87,508.74 M502.73,508.01 L503.77,507.61 L504.80,507.21 L505.84,506.81 L506.87,506.40 L507.91,506.00 M509.40,505.41 L509.74,505.28 L510.08,505.15 L510.42,505.02 L510.76,504.88 L511.09,504.75 M512.95,504.02 L513.99,503.61 L515.02,503.20 L516.06,502.80 L517.09,502.39 L518.13,501.98 M519.62,501.39 L519.96,501.25 L520.30,501.12 L520.64,500.98 L520.98,500.85 L521.31,500.71 M523.17,499.97 L524.21,499.56 L525.24,499.15 L526.28,498.73 L527.31,498.32 L528.35,497.90 M529.84,497.31 L530.18,497.17 L530.52,497.03 L530.86,496.90 L531.19,496.76 L531.53,496.63 M533.39,495.87 L534.43,495.46 L535.46,495.04 L536.50,494.62 L537.53,494.20 L538.57,493.78 M540.06,493.17 L540.40,493.04 L540.74,492.90 L541.07,492.76 L541.41,492.62 L541.75,492.48 M543.61,491.72 L544.65,491.30 L545.68,490.88 L546.71,490.45 L547.75,490.03 L548.78,489.60" fill="none" stroke="#ff00ff" stroke-width="2.0"/>
</g>
<g font-family="Liberation Sans, sans-serif" font-size="18" fill="#000">
<text x="121.8" y="621.95" text-anchor="end">0</text>
<text x="121.8" y="558.54" text-anchor="end">500</text>
<text x="121.8" y="495.14" text-anchor="end">1000</text>
<text x="121.8" y="431.73" text-anchor="end">1500</text>
<text x="121.8" y="368.32" text-anchor="end">2000</text>
<text x="121.8" y="304.92" text-anchor="end">2500</text>
<text x="121.8" y="241.51" text-anchor="end">3000</text>
<text x="134.05" y="643.2" text-anchor="middle">0</text>
<text x="232.34" y="643.2" text-anchor="middle">1000</text>
<text x="330.63" y="643.2" text-anchor="middle">2000</text>
<text x="428.92" y="643.2" text-anchor="middle">3000</text>
<text x="527.21" y="643.2" text-anchor="middle">4000</text>
</g>
<line x1="290" y1="256.10" x2="327.1" y2="256.10" stroke="#000" stroke-width="1.4"/>
<text x="331" y="262.00" font-family="Liberation Sans, sans-serif" font-size="16" fill="#000">600 <tspan font-size="12" dy="-8.3">o</tspan><tspan dy="8.3" dx="0.6">C, 900 MPa</tspan></text>
<line x1="290" y1="281.36" x2="323" y2="281.36" stroke="#ff0000" stroke-width="1.5" stroke-dasharray="6.9 6.04"/>
<text x="331" y="287.26" font-family="Liberation Sans, sans-serif" font-size="16" fill="#000">550 <tspan font-size="12" dy="-8.3">o</tspan><tspan dy="8.3" dx="0.6">C, 900 MPa</tspan></text>
<line x1="290" y1="306.62" x2="324" y2="306.62" stroke="#000080" stroke-width="1.55" stroke-dasharray="2.1 5.6"/>
<text x="331" y="312.52" font-family="Liberation Sans, sans-serif" font-size="16" fill="#000">500<tspan font-size="12" dy="-8.3" dx="3.0">o</tspan><tspan dy="8.3" dx="0.6">C, 500 MPa</tspan></text>
<line x1="290" y1="331.88" x2="327" y2="331.88" stroke="#0000ff" stroke-width="2.2" stroke-dasharray="8.2 2.9 2.2 2.9"/>
<text x="331" y="337.78" font-family="Liberation Sans, sans-serif" font-size="16" fill="#000">500 <tspan font-size="12" dy="-8.3">o</tspan><tspan dy="8.3" dx="0.6">C, 600 MPa</tspan></text>
<line x1="290" y1="357.14" x2="326" y2="357.14" stroke="#00ffff" stroke-width="1.6" stroke-dasharray="6.1 3.2 2.1 3.1 2.1 2.9"/>
<text x="331" y="363.04" font-family="Liberation Sans, sans-serif" font-size="16" fill="#000">400 <tspan font-size="12" dy="-8.3">o</tspan><tspan dy="8.3" dx="0.6">C, 900 MPa</tspan></text>
<line x1="290" y1="382.40" x2="326" y2="382.40" stroke="#ff00ff" stroke-width="1.4" stroke-dasharray="5.2 1.6 1.7 1.9"/>
<text x="331" y="388.30" font-family="Liberation Sans, sans-serif" font-size="16" fill="#000">450 <tspan font-size="12" dy="-8.3">o</tspan><tspan dy="8.3" dx="0.6">C, 900 MPa</tspan></text>
<g font-family="Liberation Sans, sans-serif" fill="#000">
<text x="429.60" y="678.40" font-size="20" font-style="italic" >f/B</text>
<text x="454.70" y="686.20" font-size="13" font-style="italic" >m</text>
<text x="455.00" y="668.90" font-size="13" font-style="italic" >α</text>
<text x="468.40" y="678.40" font-size="20" >(s</text>
<text x="486.10" y="669.40" font-size="13" >-1</text>
<text x="496.00" y="678.40" font-size="20" >T</text>
<text x="509.50" y="669.40" font-size="13" >-α</text>
<text x="521.40" y="678.40" font-size="20" >)</text>
</g>
<g transform="translate(65.0,478.5) rotate(-90)" font-family="Liberation Sans, sans-serif" fill="#000">
<text x="1.50" y="0.00" font-size="20" font-style="italic" >P</text>
<text x="13.20" y="8.30" font-size="12.7" font-style="italic" >tot</text>
<text x="32.50" y="0.00" font-size="20" font-style="italic" >/B</text>
<text x="50.40" y="8.00" font-size="12.7" font-style="italic" >m</text>
<text x="52.20" y="-11.00" font-size="11.5" font-style="italic" >β</text>
<text x="64.10" y="0.00" font-size="20" >(W kg</text>
<text x="115.40" y="-9.80" font-size="13" letter-spacing="0.6">-1</text>
<text x="126.00" y="0.00" font-size="20" >T</text>
<text x="137.20" y="-9.30" font-size="11" >−</text>
<text x="143.60" y="-11.00" font-size="11.5" >β</text>
<text x="150.70" y="0.00" font-size="20" >)</text>
</g>
</svg>
</body></html>
